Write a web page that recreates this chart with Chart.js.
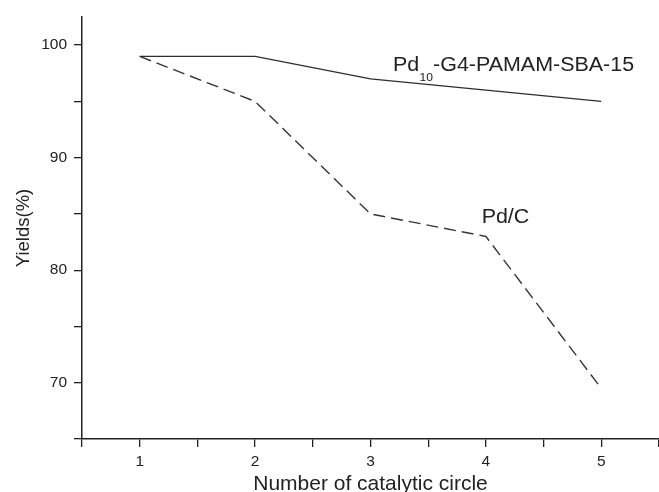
<!DOCTYPE html>
<html><head><meta charset="utf-8">
<script src="https://cdn.jsdelivr.net/npm/chart.js@4.4.1/dist/chart.umd.min.js"></script>
<style>html,body{margin:0;padding:0;background:#fff;overflow:hidden;}canvas{display:block;}</style>
</head><body>
<canvas id="c" width="659" height="492"></canvas>
<script>
// ---- data ----
const cycles = [1, 2, 3, 4, 5];
const pdPamamYield = [99, 99, 97, 96, 95];
const pdCYield = [99, 95, 85, 83, 69.5];
const xTickValues = [0.5, 1, 1.5, 2, 2.5, 3, 3.5, 4, 4.5, 5, 5.5];
const yTickValues = [65, 70, 75, 80, 85, 90, 95, 100];
const xTitle = 'Number of catalytic circle';
const yTitle = 'Yields(%)';

const FONT = '"Liberation Sans", Arial, Helvetica, sans-serif';
const INK = '#222';
const STRETCH = 1.1;

function stretchedText(ctx, text, x, y) {
  ctx.save();
  ctx.translate(x, y);
  ctx.scale(STRETCH, 1);
  ctx.fillText(text, 0, 0);
  ctx.restore();
  return ctx.measureText(text).width * STRETCH;
}

const labelPlugin = {
  id: 'seriesLabels',
  afterDatasetsDraw(chart) {
    const {ctx, scales: {x, y}} = chart;
    ctx.save();
    ctx.fillStyle = INK;
    ctx.textBaseline = 'alphabetic';
    ctx.textAlign = 'left';
    // Pd10-G4-PAMAM-SBA-15
    let px = x.getPixelForValue(3.194);
    const py = y.getPixelForValue(97.69);
    ctx.font = '19.5px ' + FONT;
    px += stretchedText(ctx, 'Pd', px, py);
    ctx.font = '11px ' + FONT;
    px += stretchedText(ctx, '10', px + 0.5, py + 10) + 0.5;
    ctx.font = '19.5px ' + FONT;
    stretchedText(ctx, '-G4-PAMAM-SBA-15', px, py);
    // Pd/C
    stretchedText(ctx, 'Pd/C', x.getPixelForValue(3.963), y.getPixelForValue(84.2));
    ctx.restore();
  }
};

const axisCommon = {
  border: {display: true, color: INK, width: 1.5},
  grid: {display: true, drawOnChartArea: false, drawTicks: true, tickLength: 8, color: INK, lineWidth: 1.3},
};

new Chart(document.getElementById('c'), {
  type: 'line',
  data: {
    datasets: [
      {
        label: 'Pd10-G4-PAMAM-SBA-15',
        data: cycles.map((c, i) => ({x: c, y: pdPamamYield[i]})),
        borderColor: '#2e2e2e', borderWidth: 1.4, pointRadius: 0, tension: 0, fill: false
      },
      {
        label: 'Pd/C',
        data: cycles.map((c, i) => ({x: c, y: pdCYield[i]})),
        borderColor: '#353535', borderWidth: 1.4, borderDash: [12, 6], pointRadius: 0, tension: 0, fill: false
      }
    ]
  },
  options: {
    responsive: false,
    devicePixelRatio: 1,
    animation: false,
    layout: {padding: {top: 17, right: 0, left: 0, bottom: 0}},
    plugins: {legend: {display: false}, tooltip: {enabled: false}},
    scales: {
      x: {
        type: 'linear', min: 0.5, max: 5.5,
        ...axisCommon,
        afterBuildTicks: s => { s.ticks = xTickValues.map(v => ({value: v})); },
        afterFit: s => { s.height = 53; s.paddingLeft = 0; s.paddingRight = 0; },
        ticks: {
          autoSkip: false, maxRotation: 0, padding: 5, color: INK,
          font: {family: FONT, size: 15.5},
          callback: v => Number.isInteger(v) ? String(v) : ''
        },
        title: {display: true, text: xTitle, color: INK, font: {family: FONT, size: 21}, padding: {top: 0, bottom: -5}}
      },
      y: {
        type: 'linear', min: 65, max: 102.5,
        ...axisCommon,
        afterBuildTicks: s => { s.ticks = yTickValues.map(v => ({value: v})); },
        afterFit: s => { s.width = 82; },
        ticks: {
          autoSkip: false, padding: 7, color: INK,
          font: {family: FONT, size: 15.5},
          callback: v => (v % 10 === 0 && v >= 70) ? String(v) : ''
        },
        title: {display: true, text: yTitle, color: INK, font: {family: FONT, size: 18.5}, padding: {top: 13, bottom: 0}}
      }
    }
  },
  plugins: [labelPlugin]
});
</script>
</body></html>
